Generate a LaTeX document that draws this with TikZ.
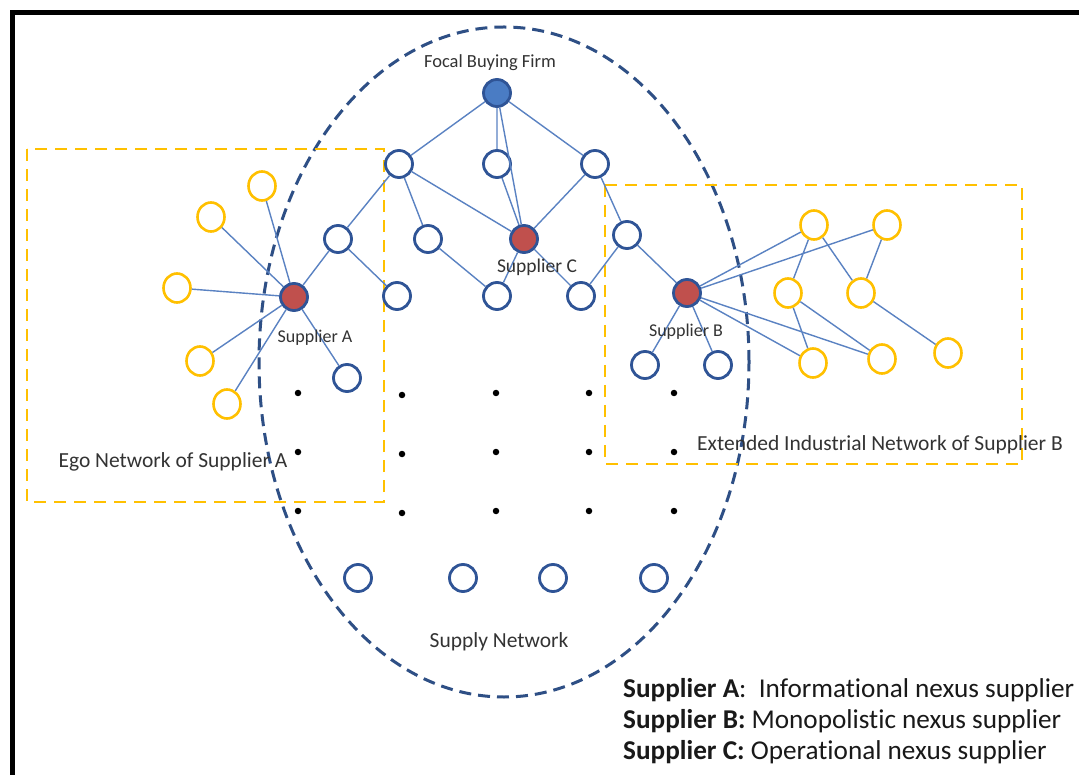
\documentclass[tikz,border=0pt]{standalone}
\usepackage{fontspec}
\setmainfont{Carlito}[Ligatures={NoCommon}]
\usetikzlibrary{shapes.geometric}
\definecolor{navyc}{HTML}{2F5496}
\definecolor{edgec}{HTML}{5A82C2}
\definecolor{redc}{HTML}{C0504D}
\definecolor{bluec}{HTML}{4A7CC4}
\definecolor{yellc}{HTML}{FFC000}
\definecolor{ellc}{HTML}{2E4F85}
\definecolor{txtc}{HTML}{333333}
\tikzset{
  nv/.style={circle, draw=navyc, line width=2.8pt, fill=white, minimum size=27pt, inner sep=0pt},
  rd/.style={nv, fill=redc},
  bl/.style={nv, fill=bluec},
  yl/.style={ellipse, draw=yellc, line width=2.6pt, fill=white, minimum width=27pt, minimum height=29pt, inner sep=0pt},
  lnk/.style={draw=edgec, line width=1.4pt},
  dotn/.style={circle, fill=black, minimum size=6.5pt, inner sep=0pt},
  lbl/.style={anchor=base, text=txtc, inner sep=0pt},
  legd/.style={anchor=base west, text=black!90, inner sep=0pt, font=\fontsize{27.2}{31}\selectfont},
}
\begin{document}
\begin{tikzpicture}[x=1pt,y=-1pt]
\path[use as bounding box] (0,0) rectangle (1079,775);
\clip (0,0) rectangle (1079,775);
\fill[white] (0,0) rectangle (1079,775);
% frame
\draw[line width=4.5pt] (12.5,12.5) rectangle (1110,810);
% supply network ellipse
\draw[ellc, line width=3pt, dash pattern=on 12pt off 7pt] (504,362) ellipse [x radius=245pt, y radius=335pt];
% yellow boxes
\draw[yellc, line width=2.8pt, dash pattern=on 12pt off 8pt] (27,149) rectangle (384,502);
\draw[yellc, line width=2.8pt, dash pattern=on 12pt off 8pt] (605,185) rectangle (1022,464);

% nodes
\node[bl] (F) at (497,93) {};
\node[nv] (a1) at (399,164) {};
\node[nv] (a2) at (497,164) {};
\node[nv] (a3) at (595,164) {};
\node[nv] (b1) at (338,239) {};
\node[nv] (b2) at (428,239) {};
\node[rd] (C) at (524,239) {};
\node[nv] (b4) at (627,235) {};
\node[rd] (A) at (294,297) {};
\node[nv] (c2) at (397,296) {};
\node[nv] (c3) at (497,296) {};
\node[nv] (c4) at (581,296) {};
\node[rd] (B) at (687,293) {};
\node[yl] (ya1) at (262,186) {};
\node[yl] (ya2) at (211,217) {};
\node[yl] (ya3) at (177,288) {};
\node[yl] (ya4) at (200,361) {};
\node[yl] (ya5) at (227,404) {};
\node[nv] (an) at (347,378) {};
\node[nv] (bn1) at (645,365) {};
\node[nv] (bn2) at (718,365) {};
\node[yl] (yb1) at (814,225) {};
\node[yl] (yb2) at (887,225) {};
\node[yl] (yb3) at (788,293) {};
\node[yl] (yb4) at (861,293) {};
\node[yl] (yb5) at (813,363) {};
\node[yl] (yb6) at (882,359) {};
\node[yl] (yb7) at (948,353) {};
\node[nv] (d1) at (358,578) {};
\node[nv] (d2) at (463,578) {};
\node[nv] (d3) at (553,578) {};
\node[nv] (d4) at (654,578) {};

% dots
\foreach \xx/\dy [count=\i] in {298/0,402/2,496/0,589/0,674/0}{
  \foreach \yy [count=\j] in {393,452,511}{
    \node[dotn] (dot\i\j) at (\xx,\yy+\dy) {};
  }
}

% links
\path[lnk] (F) -- (a1) (F) -- (a2) (F) -- (a3) (F) -- (C)
  (a1) -- (b1) (a1) -- (b2) (a1) -- (C) (a2) -- (C) (a3) -- (C) (a3) -- (b4)
  (b1) -- (A) (b1) -- (c2) (b2) -- (c3) (C) -- (c3) (C) -- (c4) (b4) -- (c4) (b4) -- (B)
  (A) -- (ya1) (A) -- (ya2) (A) -- (ya3) (A) -- (ya4) (A) -- (ya5) (A) -- (an)
  (B) -- (bn1) (B) -- (bn2) (B) -- (yb1) (B) -- (yb2) (B) -- (yb5) (B) -- (yb6)
  (yb1) -- (yb3) (yb1) -- (yb4) (yb2) -- (yb4) (yb3) -- (yb5) (yb3) -- (yb6) (yb4) -- (yb7);

% labels
\node[lbl, font=\fontsize{18.5}{21}\selectfont] (tF) at (490,68) {Focal Buying Firm};
\node[lbl, font=\fontsize{18}{21}\selectfont] (tA) at (315,343) {Supplier A};
\node[lbl, font=\fontsize{18}{21}\selectfont] (tB) at (686,337) {Supplier B};
\node[lbl, font=\fontsize{19.5}{22}\selectfont] (tC) at (537,273) {Supplier C};
\node[lbl, font=\fontsize{21.5}{24}\selectfont] (tSN) at (499,647) {Supply Network};
\node[lbl, font=\fontsize{21.5}{24}\selectfont] (tEgo) at (173,467) {Ego Network of Supplier A};
\node[lbl, font=\fontsize{21.5}{24}\selectfont] (tExt) at (880,450) {Extended Industrial Network of Supplier B};

% legend
\node[legd] (l1) at (623,697) {\textbf{Supplier A}:\ \ Informational nexus supplier};
\node[legd] (l2) at (623,728) {\textbf{Supplier B:} Monopolistic nexus supplier};
\node[legd] (l3) at (623,759) {\textbf{Supplier C:} Operational nexus supplier};
\end{tikzpicture}
\end{document}
